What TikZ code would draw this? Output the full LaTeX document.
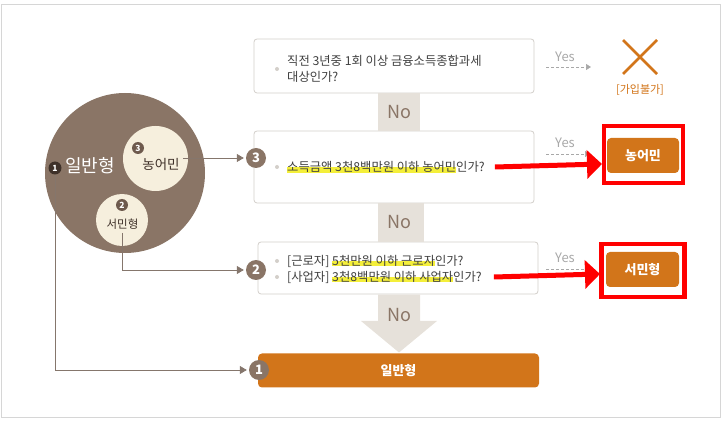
\documentclass[tikz,border=0pt]{standalone}
\usepackage{fontspec}
\setmainfont{Noto Sans CJK KR}
\usepackage{xcolor}
\usetikzlibrary{arrows.meta, positioning}
\definecolor{brownc}{HTML}{8A7566}
\definecolor{darkbrown}{HTML}{3F3129}
\definecolor{numbrown}{HTML}{6E5A4D}
\definecolor{creamc}{HTML}{F6EFDD}
\definecolor{boxline}{HTML}{D3CFCA}
\definecolor{bandgray}{HTML}{E6E1DA}
\definecolor{txtgray}{HTML}{404040}
\definecolor{yesgray}{HTML}{A8A8A8}
\definecolor{orange1}{HTML}{D2751A}
\definecolor{linkc}{HTML}{85766C}
\definecolor{hlyel}{HTML}{F4EF3A}
\definecolor{framec}{HTML}{D6D6D6}
\newcommand\hilite[1]{\setbox0\hbox{#1}\rlap{\color{hlyel}\rule[-1pt]{\wd0}{5.5pt}}\box0}

\begin{document}
\begin{tikzpicture}[x=1pt, y=-1pt,
        qbox/.style={draw=boxline, fill=white, rounded corners=3pt, line width=0.8pt, inner sep=0pt},
        qtext/.style={anchor=west, text=txtgray, font=\fontsize{12.3}{15.5}\selectfont, align=left, inner sep=0pt},
        band/.style={fill=bandgray},
        nolab/.style={text=brownc, font=\fontsize{18}{18}\selectfont},
        yeslab/.style={text=yesgray, font=\fontsize{13}{13}\selectfont},
        yesarrow/.style={draw=yesgray, line width=0.7pt, dash pattern=on 3pt off 2pt, -{Triangle[length=5pt,width=6pt]}},
        numc/.style={circle, fill=brownc, text=white, inner sep=0pt, minimum size=20pt, font=\bfseries\fontsize{13}{13}\selectfont},
        smallnum/.style={circle, fill=numbrown, text=white, inner sep=0pt, minimum size=12pt, font=\bfseries\fontsize{8.5}{8.5}\selectfont},
        orbtn/.style={fill=orange1, rounded corners=4pt, text=white, inner sep=0pt, font=\bfseries\fontsize{13}{13}\selectfont},
        redframe/.style={draw=red, line width=4.5pt, inner sep=0pt},
        redarrow/.style={draw=red, line width=5pt, -{Triangle[length=15pt,width=28pt]}},
        link/.style={draw=linkc, line width=0.8pt, -{Triangle[length=7pt,width=8pt]}},
        bulletdot/.style={fill=boxline}
    ]
    \useasboundingbox (0,0) rectangle (724,422);
    \draw[framec, line width=1pt] (1.5,4.5) rectangle (720,418);

    % left circles
    \node[circle, fill=brownc, minimum size=160pt, inner sep=0pt] (gen) at (125,173) {};
    \node[circle, fill=creamc, minimum size=65pt, inner sep=0pt] (nongc) at (155.5,158.5) {};
    \node[circle, fill=creamc, minimum size=52pt, inner sep=0pt] (seominc) at (122,220) {};
    \node[smallnum, fill=darkbrown, minimum size=13pt] (one) at (55,168) {1};
    \node[text=white, font=\fontsize{18}{18}\selectfont] (gentxt) at (90,166) {일반형};
    \node[smallnum] (n3) at (138,148) {3};
    \node[text=darkbrown, font=\fontsize{13.5}{13.5}\selectfont] (nongtxt) at (161,164) {농어민};
    \node[smallnum] (n2) at (122,205) {2};
    \node[text=darkbrown, font=\fontsize{11.5}{11.5}\selectfont] (seomintxt) at (122.5,224) {서민형};

    % question boxes
    \node[qbox, minimum width=280pt, minimum height=54pt] (q1box) at (394,66) {};
    \node[qbox, minimum width=280pt, minimum height=72pt] (q2box) at (394,167) {};
    \node[qbox, minimum width=280pt, minimum height=52pt] (q3box) at (398,268) {};
    \node[orbtn, minimum width=281pt, minimum height=34pt] (genbar) at (398.5,370.5) {일반형};

    \fill[band] ([xshift=-16pt]q1box.south) rectangle ([xshift=26pt]q2box.north);
    \fill[band] ([xshift=-16pt]q2box.south) rectangle ([xshift=26pt]q3box.north);
    \fill[band] (378,294.6) -- (420,294.6) -- (420,321) -- (437,321) -- (399,352.5)
        -- (361,321) -- (378,321) -- cycle;
    \node[nolab] (no1) at (399,112) {No};
    \node[nolab] (no2) at (399,222) {No};
    \node[nolab] (no3) at (399,315) {No};

    \node[qtext] (q1) at (287,69) {직전 3년중 1회 이상 금융소득종합과세\\대상인가?};
    \node[qtext] (q2) at (287,167) {\hilite{소득금액 3천8백만원 이하 농어민}인가?};
    \node[qtext] (q3a) at (287,261) {[근로자] \hilite{5천만원 이하 근로자}인가?};
    \node[qtext] (q3b) at (287,277) {[사업자] \hilite{3천8백만원 이하 사업자}인가?};
    \fill[bulletdot] ([xshift=-10pt]q1.west) circle (2);
    \fill[bulletdot] ([xshift=-10pt]q2.west) circle (2);
    \fill[bulletdot] ([xshift=-10pt]q3a.west) circle (2);
    \fill[bulletdot] ([xshift=-10pt]q3b.west) circle (2);

    \node[numc] (c3) at (256,158) {3};
    \node[numc] (c2) at (256,270) {2};
    \node[numc] (c1) at (259,370) {1};

    % links from the circles
    \draw[link] (nongtxt.east |- c3.west) -- ([xshift=-2pt]c3.west);
    \draw[link] (seomintxt.south) |- ([xshift=-2pt]c2.west);
    \draw[link] (one.south) |- ([xshift=-2pt]c1.west);

    % yes side
    \node[yeslab] (yes1) at (565,57) {Yes};
    \node[yeslab] (yes2) at (565,143) {Yes};
    \node[yeslab] (yes3) at (565,258) {Yes};
    \coordinate (y1s) at (546,67);
    \coordinate (y1e) at (591,67);
    \coordinate (y2s) at (546,154);
    \coordinate (y2e) at (590,154);
    \coordinate (y3s) at (546,269);
    \coordinate (y3e) at (590,269);
    \draw[yesarrow] (y1s) -- (y1e);
    \draw[yesarrow] (y2s) -- (y2e);
    \draw[yesarrow] (y3s) -- (y3e);

    \coordinate (xmark) at (640,57);
    \draw[orange1, line width=2.5pt] ([shift={(-17,-17)}]xmark) -- ([shift={(17,17)}]xmark);
    \draw[orange1, line width=2.5pt] ([shift={(17,-17)}]xmark) -- ([shift={(-17,17)}]xmark);
    \node[text=orange1, font=\fontsize{11}{11}\selectfont] (nojoin) at (640,90) {[가입불가]};

    \node[orbtn, minimum width=72pt, minimum height=35pt] (nongbtn) at (643,155.5) {농어민};
    \node[redframe, minimum width=79pt, minimum height=57pt] (red1) at (643.5,154.5) {};
    \node[orbtn, minimum width=73pt, minimum height=35pt] (seominbtn) at (642.5,269.5) {서민형};
    \node[redframe, minimum width=83pt, minimum height=53pt] (red2) at (643,270.5) {};

    \coordinate (tip1) at (602,164);
    \coordinate (tip2) at (600,274);
    \draw[redarrow] ([xshift=10pt]q2.east) -- (tip1);
    \draw[redarrow] ([xshift=12pt]q3b.east) -- (tip2);
\end{tikzpicture}
\end{document}
